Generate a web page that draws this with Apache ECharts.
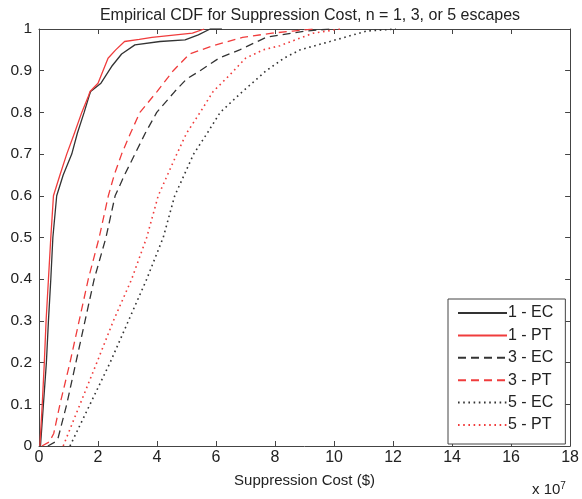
<!DOCTYPE html>
<html>
<head>
<meta charset="utf-8">
<script src="https://cdn.jsdelivr.net/npm/echarts@6/dist/echarts.min.js"></script>
<style>
  html, body { margin: 0; padding: 0; background: #fff; }
  #chart { width: 582px; height: 499px; }
</style>
</head>
<body>
<div id="chart"></div>
<script>
// values in units of 10^7 dollars
const ec1X = [0.05, 0.1, 0.15, 0.25, 0.32, 0.4, 0.47, 0.6, 0.82, 1.11, 1.3, 1.53, 1.7, 1.75, 2.1, 2.46, 2.8, 3.25, 4.1, 4.95, 5.4, 5.8, 6.2];
const ec1Y = [0, 0.05, 0.1, 0.2, 0.3, 0.4, 0.5, 0.6, 0.65, 0.7, 0.75, 0.8, 0.84, 0.85, 0.87, 0.91, 0.94, 0.962, 0.97, 0.974, 0.986, 1.0, 1.0];

const pt1X = [0.03, 0.07, 0.11, 0.18, 0.24, 0.32, 0.4, 0.49, 0.71, 0.94, 1.2, 1.45, 1.68, 1.73, 2.0, 2.34, 2.6, 2.9, 3.4, 3.83, 5.2, 5.6];
const pt1Y = [0, 0.05, 0.1, 0.2, 0.3, 0.4, 0.5, 0.6, 0.65, 0.7, 0.75, 0.8, 0.84, 0.85, 0.87, 0.93, 0.95, 0.97, 0.975, 0.98, 0.99, 1.0];

const ec3X = [0.3, 0.55, 0.65, 0.94, 1.25, 1.56, 1.87, 2.27, 2.58, 2.9, 3.25, 3.6, 3.99, 4.6, 5.0, 5.46, 6.1, 6.8, 7.7, 8.2, 9.0, 9.9];
const ec3Y = [0, 0.01, 0.02, 0.1, 0.2, 0.3, 0.4, 0.5, 0.6, 0.65, 0.7, 0.75, 0.8, 0.85, 0.88, 0.9, 0.93, 0.95, 0.98, 0.986, 0.995, 1.0];

const pt3X = [0.1, 0.35, 0.5, 0.71, 1.05, 1.36, 1.67, 2.04, 2.35, 2.55, 2.8, 3.1, 3.42, 4.0, 4.55, 5.1, 5.9, 6.9, 7.9, 8.6, 9.3];
const pt3Y = [0, 0.01, 0.03, 0.1, 0.2, 0.3, 0.4, 0.5, 0.6, 0.65, 0.7, 0.75, 0.8, 0.85, 0.9, 0.94, 0.96, 0.98, 0.99, 0.995, 1.0];

const ec5X = [1.05, 1.73, 2.41, 3.03, 3.65, 4.21, 4.6, 5.24, 5.7, 6.14, 6.9, 7.7, 8.3, 8.85, 9.86, 11.1, 12.1];
const ec5Y = [0, 0.1, 0.2, 0.3, 0.4, 0.5, 0.6, 0.7, 0.75, 0.8, 0.85, 0.9, 0.93, 0.95, 0.97, 0.995, 1.0];

const pt5X = [0.82, 1.39, 1.96, 2.52, 3.14, 3.65, 4.04, 4.67, 5.0, 5.46, 5.9, 6.47, 7.0, 7.6, 8.17, 9.29, 10.2];
const pt5Y = [0, 0.1, 0.2, 0.3, 0.4, 0.5, 0.6, 0.7, 0.75, 0.8, 0.85, 0.89, 0.93, 0.95, 0.96, 0.99, 1.0];

const seriesNames = ['1 - EC', '1 - PT', '3 - EC', '3 - PT', '5 - EC', '5 - PT'];

const BLACK = '#333333';
const RED = '#f03c3c';
const FONT = 'Liberation Sans';

function pairs(xs, ys) {
    return xs.map((x, i) => [x, ys[i]]);
}

function makeLine(name, xs, ys, color, type) {
    return {
        name: name,
        type: 'line',
        data: pairs(xs, ys),
        symbol: 'none',
        animation: false,
        lineStyle: { color: color, width: type === 'dotted' ? 1.6 : 1.3, type: type === 'dotted' ? [1.6, 3.6] : type },
        itemStyle: { color: color },
    };
}

const chart = echarts.init(document.getElementById('chart'));

const axisBase = {
    axisLine: { show: true, onZero: false, lineStyle: { color: '#444', width: 1 } },
    axisTick: { show: true, inside: true, length: 5, lineStyle: { color: '#444' } },
    splitLine: { show: false },
};

chart.setOption({
    backgroundColor: '#fff',
    title: {
        text: 'Empirical CDF for Suppression Cost, n = 1, 3, or 5 escapes',
        left: 305,
        textAlign: 'center',
        top: 3,
        textStyle: { fontFamily: FONT, fontSize: 16, fontWeight: 'normal', color: '#222' },
    },
    grid: { left: 39, right: 11, top: 29, bottom: 53 },
    legend: {
        data: seriesNames,
        orient: 'vertical',
        left: 448,
        top: 299,
        padding: [6, 12, 11, 9],
        itemWidth: 49,
        itemHeight: 14,
        itemGap: 6.4,
        borderColor: '#444',
        borderWidth: 1,
        backgroundColor: '#fff',
        itemStyle: { opacity: 0 },
        textStyle: { fontFamily: FONT, fontSize: 16, color: '#222', padding: [0, 0, 0, -4] },
    },
    xAxis: [
        Object.assign({}, axisBase, {
            type: 'value', min: 0, max: 18, interval: 2, position: 'bottom',
            name: 'Suppression Cost ($)', nameLocation: 'middle', nameGap: 27,
            nameTextStyle: { fontFamily: FONT, fontSize: 15, color: '#222' },
            axisLabel: { fontFamily: FONT, fontSize: 16, color: '#222', margin: 4 },
        }),
        Object.assign({}, axisBase, {
            type: 'value', min: 0, max: 18, interval: 2, position: 'top',
            axisLabel: { show: false },
        }),
    ],
    yAxis: [
        Object.assign({}, axisBase, {
            type: 'value', min: 0, max: 1, interval: 0.1, position: 'left',
            axisLabel: { fontFamily: FONT, fontSize: 15.5, color: '#222', margin: 7 },
        }),
        Object.assign({}, axisBase, {
            type: 'value', min: 0, max: 1, interval: 0.1, position: 'right',
            axisLabel: { show: false },
        }),
    ],
    graphic: [{
        type: 'text',
        left: 532,
        top: 481,
        style: {
            text: 'x 10{sup|7}',
            rich: { sup: { fontSize: 10, verticalAlign: 'top', padding: [0, 0, 7, 0], fontFamily: FONT, fill: '#222' } },
            font: '15px "Liberation Sans"',
            fill: '#222',
        },
    }],
    series: [
        makeLine(seriesNames[0], ec1X, ec1Y, BLACK, 'solid'),
        makeLine(seriesNames[1], pt1X, pt1Y, RED, 'solid'),
        makeLine(seriesNames[2], ec3X, ec3Y, BLACK, [8, 5]),
        makeLine(seriesNames[3], pt3X, pt3Y, RED, [8, 5]),
        makeLine(seriesNames[4], ec5X, ec5Y, BLACK, 'dotted'),
        makeLine(seriesNames[5], pt5X, pt5Y, RED, 'dotted'),
    ],
});
</script>
</body>
</html>
